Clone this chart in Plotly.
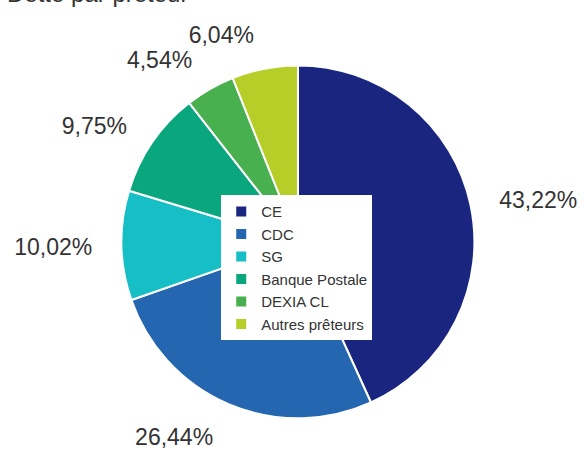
import plotly.graph_objects as go

labels = ["CE", "CDC", "SG", "Banque Postale", "DEXIA CL", "Autres prêteurs"]
values = [43.22, 26.44, 10.02, 9.75, 4.54, 6.04]
colors = ["#1a2580", "#2566b0", "#16bec6", "#0aa67e", "#48b04f", "#b5cf28"]
text_labels = [f"{v:.2f}%".replace(".", ",") for v in values]

W, H = 585, 455
cx, cy, r = 299, 242, 178
r_lab = 201
FONT = "Liberation Sans, Arial, Helvetica"


def dom(rad, dy=0):
    c = cy + dy
    return dict(x=[(cx - rad) / W, (cx + rad) / W], y=[1 - (c + rad) / H, 1 - (c - rad) / H])


def label_pie(positions):
    return go.Pie(
        labels=labels, values=values, sort=False, direction="clockwise", rotation=0,
        text=text_labels, textinfo="text", textposition=positions,
        textfont=dict(size=23, color="#333333", family=FONT),
        marker=dict(colors=["rgba(0,0,0,0)"] * len(values), line=dict(width=0)),
        domain=dom(r_lab, 3), showlegend=False, hoverinfo="skip",
    )


n = len(values)
fig = go.Figure()
# invisible, slightly larger pies carrying only the outside percentage labels
fig.add_trace(label_pie(["outside"] * (n - 1) + ["none"]))
fig.add_trace(label_pie(["none"] * (n - 1) + ["outside"]))
fig.add_trace(go.Pie(
    labels=labels, values=values, sort=False, direction="clockwise", rotation=0,
    textinfo="none",
    marker=dict(colors=colors, line=dict(color="white", width=2)),
    domain=dom(r, 2), hoverinfo="label+percent",
))

fig.update_layout(
    width=W, height=H,
    margin=dict(l=0, r=0, t=0, b=0),
    paper_bgcolor="white", plot_bgcolor="white",
    showlegend=True,
    legend=dict(x=222 / W, y=1 - 197 / H, xanchor="left", yanchor="top",
                bgcolor="white", font=dict(size=15, color="#333333", family=FONT),
                tracegroupgap=0, itemsizing="constant"),
    annotations=[dict(text="Dette par prêteur", x=5 / W, y=1 - 9 / H, xref="paper", yref="paper",
                      xanchor="left", yanchor="bottom", showarrow=False,
                      font=dict(size=24, color="#333333", family=FONT))],
)

fig.write_html("out.html", config={"displayModeBar": False},
               post_script="document.body.style.margin='0';")
